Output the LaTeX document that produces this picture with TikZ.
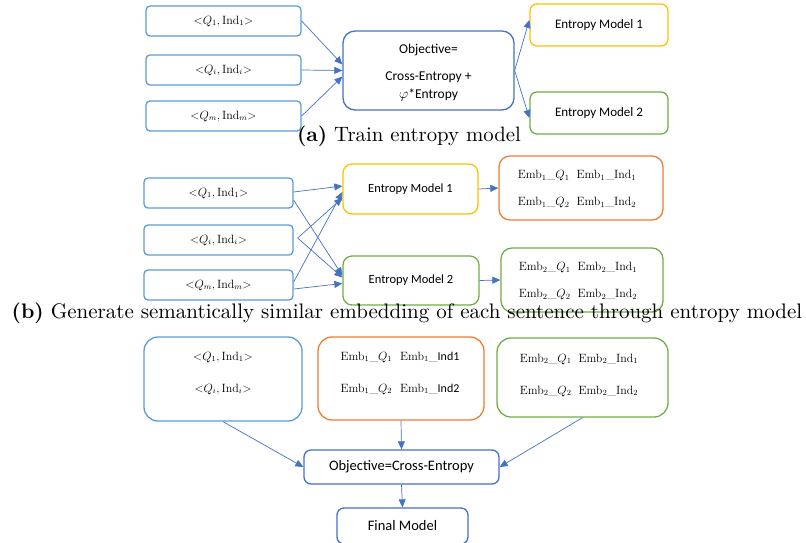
\documentclass[tikz,border=0pt]{standalone}
\usepackage{fontspec}
\newfontfamily\calibri{Carlito}
\usetikzlibrary{arrows.meta}

\definecolor{inblue}{HTML}{5B9BD5}
\definecolor{objblue}{HTML}{4472C4}
\definecolor{emyellow}{HTML}{FFC000}
\definecolor{emgreen}{HTML}{70AD47}
\definecolor{emborange}{HTML}{ED7D31}

\newcommand{\pair}[2]{${<}Q_{#1},\mathrm{Ind}_{#2}{>}$}
\newcommand{\emb}[2]{Emb$_{#1}$\_#2}

\begin{document}
\begin{tikzpicture}[x=1pt,y=-1pt,
    inbox/.style={draw=inblue, line width=1.3pt, rounded corners=4pt, inner sep=0pt,
        minimum height=30pt, font=\fontsize{12}{14}\selectfont},
    modelbox/.style={draw=#1, line width=1.3pt, rounded corners=7pt, inner sep=0pt,
        font=\calibri\fontsize{13}{16}\selectfont},
    bigbox/.style={draw=#1, line width=1.3pt, rounded corners=13pt, inner sep=0pt},
    embtext/.style={align=left, inner sep=0pt, font=\fontsize{12}{14}\selectfont},
    caption/.style={anchor=base, inner sep=0pt, font=\normalsize},
    arr/.style={draw=objblue, line width=0.7pt, -{Triangle[length=8pt,width=7pt]}}]
    \useasboundingbox (0,0) rectangle (806,542);

    % (a) train entropy model
    \foreach \name/\y/\i in {aqa/21/1, aqb/70/i, aqc/116/m}
        \node[inbox, minimum width=155pt] (\name) at (223.5,\y) {\pair{\i}{\i}};
    \node[modelbox=objblue, rounded corners=12pt, minimum width=171pt, minimum height=79pt] (aobj) at (428.5,70.5) {};
    \node[align=center, inner sep=0pt, font=\calibri\fontsize{13.5}{18}\selectfont] (aobjtext) at (428.5,73)
        {Objective=\\[9pt]Cross-Entropy +\\$\varphi$*Entropy};
    \node[modelbox=emyellow, minimum width=138pt, minimum height=42pt] (aema) at (599,25) {Entropy Model 1};
    \node[modelbox=emgreen, minimum width=138pt, minimum height=42pt] (aemb) at (599,113) {Entropy Model 2};
    \draw[arr] (aqa.east) -- ([yshift=6pt]aobj.west);
    \draw[arr] (aqb.east) -- (aobj.west);
    \draw[arr] (aqc.east) -- ([yshift=-6pt]aobj.west);
    \draw[arr] (aobj.east) -- ([yshift=5pt]aema.west);
    \draw[arr] (aobj.east) -- ([yshift=-5pt]aemb.west);
    \node[caption] (capa) at (409,141) {\scalebox{2.08}{\textbf{(a)} Train entropy model}};

    % (b) generate embeddings
    \foreach \name/\y/\i in {bqa/193/1, bqb/240/i, bqc/285/m}
        \node[inbox, minimum width=149pt] (\name) at (218.5,\y) {\pair{\i}{\i}};
    \node[modelbox=emyellow, rounded corners=9pt, minimum width=135pt, minimum height=50pt,
        font=\calibri\fontsize{12.5}{15}\selectfont] (bema) at (410.5,189) {Entropy Model 1};
    \node[modelbox=emgreen, rounded corners=9pt, minimum width=136pt, minimum height=49pt,
        font=\calibri\fontsize{12.5}{15}\selectfont] (bemb) at (411,280.5) {Entropy Model 2};
    \node[bigbox=emborange, rounded corners=11pt, minimum width=164pt, minimum height=64pt] (bemba) at (581,188) {};
    \node[embtext] (bembatext) at (577,189)
        {\emb{1}{$Q_1$}\hspace{7pt}\emb{1}{Ind$_1$}\\[13pt]\emb{1}{$Q_2$}\hspace{7pt}\emb{1}{Ind$_2$}};
    \node[bigbox=emgreen, rounded corners=11pt, minimum width=162pt, minimum height=64pt] (bembb) at (582,280) {};
    \node[embtext] (bembbtext) at (578,281)
        {\emb{2}{$Q_1$}\hspace{7pt}\emb{2}{Ind$_1$}\\[13pt]\emb{2}{$Q_2$}\hspace{7pt}\emb{2}{Ind$_2$}};
    \draw[arr] ([yshift=1pt]bqa.east) -- ([yshift=3pt]bema.west);
    \draw[arr] ([yshift=-7pt]bqa.east) -- ([yshift=5pt]bemb.west);
    \draw[arr] ([xshift=4pt,yshift=2pt]bqb.east) -- ([yshift=-9pt]bema.west);
    \draw[arr] ([xshift=4pt,yshift=2pt]bqb.east) -- ([yshift=3pt]bemb.west);
    \draw[arr] ([yshift=3pt]bqc.east) -- ([yshift=-3pt]bema.west);
    \draw[arr] ([yshift=-4pt]bqc.east) -- ([yshift=-3pt]bemb.west);
    \draw[arr] (bema.east) -- (bemba.west);
    \draw[arr] (bemb.east) -- (bembb.west);
    \node[caption] (capb) at (407,318)
        {\scalebox{2.1}{\textbf{(b)} Generate semantically similar embedding of each sentence through entropy model}};

    % (c) train final model
    \node[bigbox=inblue, rounded corners=14pt, minimum width=158pt, minimum height=84pt] (cin) at (223,379) {};
    \node[align=center, inner sep=0pt, font=\fontsize{12}{32}\selectfont] (cintext) at (223,373)
        {\pair{1}{1}\\\pair{i}{i}};
    \node[bigbox=emborange, rounded corners=14pt, minimum width=166pt, minimum height=83pt] (cemba) at (401,378.5) {};
    \node[embtext, font=\fontsize{12}{32}\selectfont] (cembatext) at (400,373)
        {\emb{1}{$Q_1$}\hspace{8pt}\emb{1}{{\calibri Ind1}}\\\emb{1}{$Q_2$}\hspace{8pt}\emb{1}{{\calibri Ind2}}};
    \node[bigbox=emgreen, rounded corners=14pt, minimum width=171pt, minimum height=79pt] (cembb) at (582.5,377.5) {};
    \node[embtext, font=\fontsize{12}{32}\selectfont] (cembbtext) at (579,375)
        {\emb{2}{$Q_1$}\hspace{7pt}\emb{2}{Ind$_1$}\\\emb{2}{$Q_2$}\hspace{7pt}\emb{2}{Ind$_2$}};
    \node[modelbox=objblue, minimum width=195pt, minimum height=34pt,
        font=\calibri\fontsize{14.5}{17}\selectfont] (cobj) at (401.5,467) {Objective=Cross-Entropy};
    \node[modelbox=objblue, minimum width=131pt, minimum height=36pt,
        font=\calibri\fontsize{14.5}{17}\selectfont] (cfin) at (402.5,526) {Final Model};
    \draw[arr] (cin.south) -- (cobj.west);
    \draw[arr] (cemba.south) -- (cobj.north);
    \draw[arr] (cembb.south) -- (cobj.east);
    \draw[arr] (cobj.south) -- (cfin.north);
\end{tikzpicture}
\end{document}
